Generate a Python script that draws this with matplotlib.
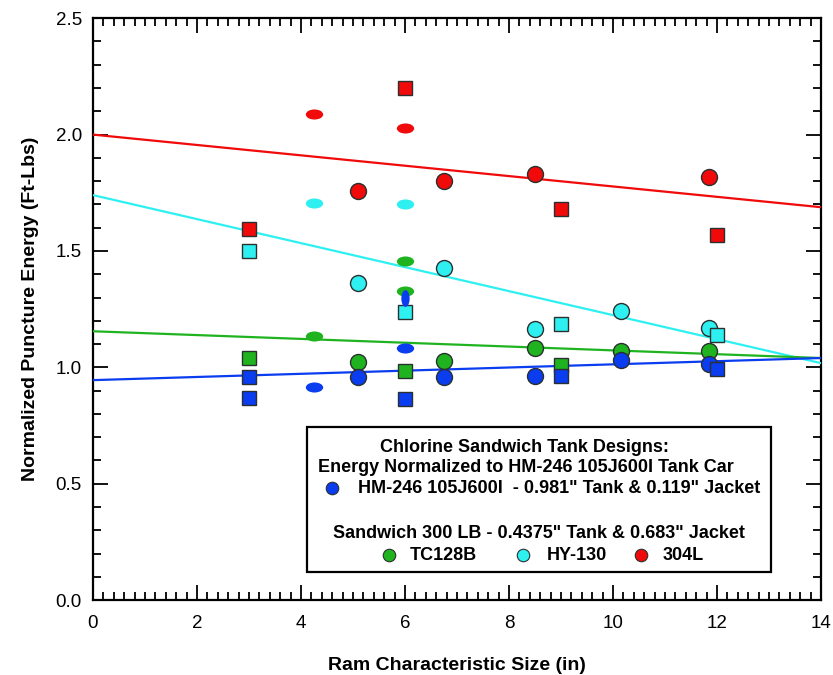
import matplotlib.pyplot as plt
from matplotlib.markers import MarkerStyle
from matplotlib.patches import Rectangle
from matplotlib.transforms import Affine2D
from matplotlib.ticker import MultipleLocator

plt.rcParams['font.family'] = ['Liberation Sans', 'DejaVu Sans']

# data: x = ram size (in), y = normalized energy
# shape: o = circle, s = square, e = flat ellipse, v = tall ellipse
hm_x = [3, 3, 4.25, 5.1, 6, 6, 6, 6.75, 8.5, 9, 10.15, 11.85, 12]
hm_y = [0.958, 0.868, 0.915, 0.958, 0.863, 1.082, 1.30, 0.958, 0.962, 0.962, 1.031, 1.014, 0.992]
hm_shape = ['s', 's', 'e', 'o', 's', 'e', 'v', 'o', 'o', 's', 'o', 'o', 's']

tc_x = [3, 4.25, 5.1, 6, 6, 6, 6.75, 8.5, 9, 10.15, 11.85]
tc_y = [1.04, 1.134, 1.023, 0.985, 1.456, 1.327, 1.027, 1.082, 1.01, 1.07, 1.07]
tc_shape = ['s', 'e', 'o', 's', 'e', 'e', 'o', 'o', 's', 'o', 'o']

hy_x = [3, 4.25, 5.1, 6, 6, 6.75, 8.5, 9, 10.15, 11.85, 12]
hy_y = [1.50, 1.705, 1.362, 1.237, 1.70, 1.426, 1.164, 1.186, 1.241, 1.168, 1.138]
hy_shape = ['s', 'e', 'o', 's', 'e', 'o', 'o', 's', 'o', 'o', 's']

ss_x = [3, 4.25, 5.1, 6, 6, 6.75, 8.5, 9, 11.85, 12]
ss_y = [1.594, 2.09, 1.757, 2.20, 2.03, 1.80, 1.83, 1.68, 1.817, 1.568]
ss_shape = ['s', 'e', 'o', 's', 'e', 'o', 'o', 's', 'o', 's']

# trend lines: value at x=0 and at x=14
fit_x = [0, 14]
hm_fit = [0.945, 1.04]
tc_fit = [1.155, 1.04]
hy_fit = [1.74, 1.018]
ss_fit = [2.0, 1.688]

blue = '#0a3cf0'
green = '#1fb41f'
cyan = '#2ef0f0'
red = '#f00a0a'
edge = '#2a3030'

flat = MarkerStyle('o', transform=Affine2D().scale(1.0, 0.58))
tall = MarkerStyle('o', transform=Affine2D().scale(0.5, 1.0))


def draw_series(ax, xs, ys, shapes, color):
    for x, y, sh in zip(xs, ys, shapes):
        if sh == 'o':
            ax.plot(x, y, 'o', ms=11.5, mfc=color, mec=edge, mew=1.0, zorder=4)
        elif sh == 's':
            ax.plot(x, y, 's', ms=10.5, mfc=color, mec=edge, mew=1.0, zorder=4)
        elif sh == 'e':
            ax.plot(x, y, marker=flat, ms=12.5, mfc=color, mec=color, mew=0, ls='none', zorder=4)
        else:
            ax.plot(x, y, marker=tall, ms=12, mfc=color, mec=color, mew=0, ls='none', zorder=5)


fig = plt.figure(figsize=(8.33, 6.75), dpi=100)
ax = fig.add_axes([0.1116, 0.111, 0.874, 0.862])

ax.plot(fit_x, ss_fit, color=red, lw=1.6, zorder=3)
ax.plot(fit_x, hy_fit, color=cyan, lw=1.6, zorder=3)
ax.plot(fit_x, tc_fit, color=green, lw=1.6, zorder=3)
ax.plot(fit_x, hm_fit, color=blue, lw=1.6, zorder=3)

draw_series(ax, tc_x, tc_y, tc_shape, green)
draw_series(ax, hm_x, hm_y, hm_shape, blue)
draw_series(ax, hy_x, hy_y, hy_shape, cyan)
draw_series(ax, ss_x, ss_y, ss_shape, red)

ax.set_xlim(0, 14)
ax.set_ylim(0, 2.5)
ax.xaxis.set_major_locator(MultipleLocator(2))
ax.xaxis.set_minor_locator(MultipleLocator(0.2))
ax.yaxis.set_major_locator(MultipleLocator(0.5))
ax.yaxis.set_minor_locator(MultipleLocator(0.1))
ax.yaxis.set_major_formatter(plt.FormatStrFormatter('%.1f'))
ax.tick_params(which='both', direction='in', top=True, right=True, width=1.3, labelsize=13.5)
ax.tick_params(which='major', length=11, pad=8)
ax.tick_params(which='minor', length=6)
ax.tick_params(axis='x', which='major', pad=11)
for sp in ax.spines.values():
    sp.set_linewidth(1.6)

ax.set_xlabel('Ram Characteristic Size (in)', fontsize=14, fontweight='bold', labelpad=18)
ax.set_ylabel('Normalized Puncture Energy (Ft-Lbs)', fontsize=14, fontweight='bold', labelpad=12)

# legend box drawn by hand
ax.add_patch(Rectangle((0.294, 0.048), 0.637, 0.249, transform=ax.transAxes,
                       fill=True, fc='white', ec='black', lw=1.6, zorder=6))
tkw = dict(transform=ax.transAxes, fontsize=13, fontweight='bold', va='center', zorder=7)
ax.text(0.593, 0.263, 'Chlorine Sandwich Tank Designs:', ha='center', **tkw)
ax.text(0.595, 0.2285, 'Energy Normalized to HM-246 105J600I Tank Car', ha='center', **tkw)
ax.text(0.364, 0.192, 'HM-246 105J600I  - 0.981" Tank & 0.119" Jacket', ha='left', **tkw)
ax.text(0.613, 0.115, 'Sandwich 300 LB - 0.4375" Tank & 0.683" Jacket', ha='center', **tkw)
ax.text(0.4354, 0.077, 'TC128B', ha='left', **tkw)
ax.text(0.6236, 0.077, 'HY-130', ha='left', **tkw)
ax.text(0.783, 0.077, '304L', ha='left', **tkw)
for lx, ly, c in [(0.328, 0.192, blue), (0.4066, 0.077, green),
                  (0.5907, 0.077, cyan), (0.7527, 0.077, red)]:
    ax.plot(lx, ly, 'o', ms=9, mfc=c, mec=edge, mew=0.8, transform=ax.transAxes,
            zorder=7, clip_on=False)

fig.savefig('out.png', dpi=100)
